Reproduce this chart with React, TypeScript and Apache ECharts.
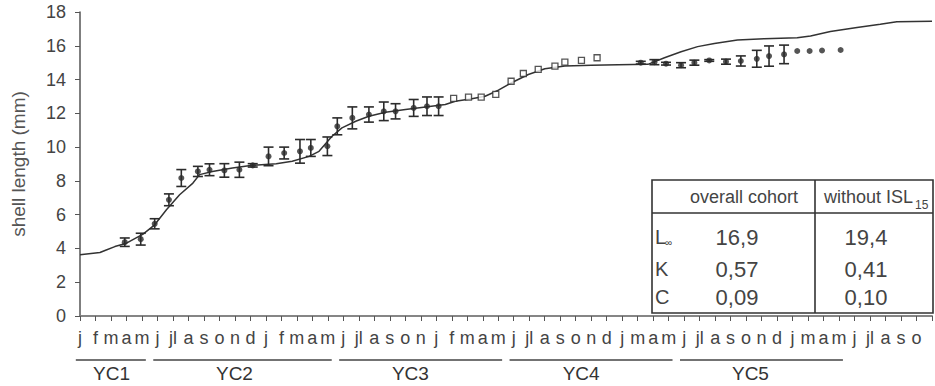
import React, { useEffect, useRef } from "react";
import * as echarts from "echarts";

// ---------- data ----------
const monthLabels = [
  "j", "f", "m", "a", "m",
  "j", "jl", "a", "s", "o", "n", "d", "j", "f", "m", "a", "m",
  "j", "jl", "a", "s", "o", "n", "j", "f", "m", "a", "m",
  "j", "jl", "a", "s", "o", "n", "d", "j", "m", "a", "m",
  "j", "jl", "a", "s", "o", "n", "d", "j", "m", "a", "m",
  "j", "jl", "a", "s", "o",
];

const yearClassNames = ["YC1", "YC2", "YC3", "YC4", "YC5"];
const yearClassStart = [0, 5, 17, 28, 39];
const yearClassEnd = [4, 16, 27, 38, 49];
const yearClassLabelAt = [2.04, 9.97, 21.33, 32.35, 43.28];

// growth curve (VBGF seasonal fit)
const curveX = [0, 1.29, 1.61, 2.25, 3.0, 4.07, 4.82, 5.58, 6.43, 7.29, 7.72, 8.55, 9.84, 11.13, 12.67, 13.7, 14.79, 15.43, 16.27, 16.91, 17.8, 18.65, 19.72, 21.01, 22.3, 23.58, 24.23, 25.29, 26.15, 27.01, 27.86, 28.94, 30.01, 31.3, 33.01, 34.73, 36.66, 37.73, 38.8, 39.87, 40.95, 42.44, 44.16, 46.3, 47.16, 48.44, 50.16, 51.66, 52.73, 55];
const curveY = [3.62, 3.76, 3.88, 4.11, 4.31, 4.85, 5.4, 6.29, 7.18, 7.87, 8.37, 8.56, 8.76, 8.92, 9.02, 9.16, 9.45, 9.75, 10.64, 11.14, 11.53, 11.83, 12.07, 12.23, 12.38, 12.52, 12.72, 12.86, 13.01, 13.37, 13.81, 14.3, 14.64, 14.8, 14.84, 14.87, 14.9, 15.29, 15.65, 15.95, 16.14, 16.34, 16.42, 16.48, 16.58, 16.84, 17.08, 17.27, 17.42, 17.45];

// mean shell length with error bars (first sampling period)
const ebX1 = [2.89, 3.92, 4.82, 5.74, 6.54, 7.61, 8.36, 9.32, 10.29, 11.15, 12.17, 13.18, 14.2, 14.9, 15.97, 16.61, 17.58, 18.65, 19.61, 20.37, 21.54, 22.4, 23.15];
const ebY1 = [4.37, 4.55, 5.46, 6.88, 8.17, 8.56, 8.66, 8.62, 8.66, 8.92, 9.45, 9.65, 9.75, 9.95, 10.05, 11.23, 11.73, 11.93, 12.12, 12.12, 12.32, 12.42, 12.42];
const ebE1 = [0.25, 0.35, 0.3, 0.35, 0.5, 0.3, 0.35, 0.4, 0.45, 0.1, 0.55, 0.35, 0.7, 0.5, 0.55, 0.5, 0.65, 0.45, 0.55, 0.45, 0.5, 0.55, 0.55];

// open squares
const sqX = [24.12, 25.08, 25.9, 26.84, 27.83, 28.62, 29.58, 30.66, 31.3, 32.37, 33.38];
const sqY = [12.88, 12.96, 12.96, 13.12, 13.9, 14.36, 14.6, 14.8, 15.03, 15.13, 15.29];

// second period with error bars
const ebX2 = [36.2, 37.08, 37.83, 38.8, 39.66, 40.62, 41.7, 42.66, 43.69, 44.48, 45.45];
const ebY2 = [15.0, 15.03, 14.94, 14.85, 15.0, 15.13, 15.06, 15.1, 15.23, 15.39, 15.49];
const ebE2 = [0.08, 0.15, 0.08, 0.15, 0.15, 0.05, 0.15, 0.3, 0.5, 0.6, 0.55];

// single dots
const dotX = [46.3, 47.1, 47.9, 49.1];
const dotY = [15.69, 15.69, 15.72, 15.75];

// parameter table
const tableColumns = ["overall cohort", "without ISL"];
const tableColumnSub = ["", "15"];
const tableRowNames = ["L", "K", "C"];
const tableRowSub = ["∞", "", ""];
const tableOverall = ["16,9", "0,57", "0,09"];
const tableWithout = ["19,4", "0,41", "0,10"];

// ---------- style ----------
const SANS = "'Liberation Sans', Arial, Helvetica, sans-serif";
const INK = "#2b2b2b";
const TXT = "#444";

export default function App() {
  const ref = useRef<HTMLDivElement>(null);

  useEffect(() => {
    document.body.style.margin = "0";
    const el = ref.current!;
    const chart = echarts.init(el, null, { renderer: "svg" });

    const zip = (a: number[], b: number[]) => a.map((v, i) => [v, b[i]]);
    const zip3 = (a: number[], b: number[], c: number[]) => a.map((v, i) => [v, b[i], c[i]]);

    const errData = [...zip3(ebX1, ebY1, ebE1), ...zip3(ebX2, ebY2, ebE2)];

    const option: any = {
      animation: false,
      backgroundColor: "#fff",
      grid: { left: 80, right: 0, top: 12, bottom: 70, containLabel: false },
      xAxis: [
        {
          type: "value",
          min: 0,
          max: 55,
          interval: 1,
          axisLine: { show: true, onZero: false, lineStyle: { color: "#555", width: 1.5 } },
          axisTick: { show: true, length: 5, lineStyle: { color: "#555", width: 1 } },
          axisLabel: {
            show: true,
            margin: 13,
            fontSize: 18,
            color: TXT,
            fontFamily: SANS,
            formatter: (v: number) => monthLabels[Math.round(v)] ?? "",
          },
          splitLine: { show: false },
        },
        {
          type: "value",
          position: "top",
          min: 0,
          max: 55,
          axisLine: { show: true, lineStyle: { color: "#888", width: 1.5 } },
          axisTick: { show: false },
          axisLabel: { show: false },
          splitLine: { show: false },
        },
      ],
      yAxis: {
        type: "value",
        min: 0,
        max: 18,
        interval: 2,
        name: "shell length (mm)",
        nameLocation: "middle",
        nameGap: 52,
        nameTextStyle: { fontSize: 19, color: "#555", fontFamily: SANS },
        axisLine: { show: true, lineStyle: { color: "#555", width: 1.5 } },
        axisTick: { show: true, length: 5, lineStyle: { color: "#555", width: 1 } },
        axisLabel: { fontSize: 18, color: TXT, margin: 14, fontFamily: SANS },
        splitLine: { show: false },
      },
      series: [
        {
          type: "line",
          data: zip(curveX, curveY),
          symbol: "none",
          lineStyle: { color: "#333", width: 1.5 },
          z: 2,
        },
        {
          type: "custom",
          data: errData,
          z: 3,
          renderItem: (_params: any, api: any) => {
            const x = api.value(0);
            const y = api.value(1);
            const e = api.value(2);
            const top = api.coord([x, y + e]);
            const bot = api.coord([x, y - e]);
            const cw = 5;
            const st = { stroke: INK, lineWidth: 1.6 };
            return {
              type: "group",
              children: [
                { type: "line", shape: { x1: top[0], y1: top[1], x2: bot[0], y2: bot[1] }, style: st },
                { type: "line", shape: { x1: top[0] - cw, y1: top[1], x2: top[0] + cw, y2: top[1] }, style: st },
                { type: "line", shape: { x1: bot[0] - cw, y1: bot[1], x2: bot[0] + cw, y2: bot[1] }, style: st },
              ],
            };
          },
        },
        {
          type: "scatter",
          data: [...zip(ebX1, ebY1), ...zip(ebX2, ebY2), ...zip(dotX, dotY)],
          symbol: "circle",
          symbolSize: 6,
          itemStyle: { color: INK },
          z: 4,
        },
        {
          type: "scatter",
          data: zip(sqX, sqY),
          symbol: "rect",
          symbolSize: 6,
          itemStyle: { color: "#fff", borderColor: INK, borderWidth: 1.3 },
          z: 4,
        },
      ],
    };

    chart.setOption(option);

    const px = (v: number) => chart.convertToPixel({ xAxisIndex: 0 }, v) as number;
    const txt = (x: number, y: number, text: string, size: number, align: string, color = TXT) => ({
      type: "text",
      x,
      y,
      style: {
        text,
        fontSize: size,
        fontFamily: SANS,
        fill: color,
        align,
        verticalAlign: "middle",
        textAlign: align,
        textVerticalAlign: "middle",
      },
      z: 10,
    });

    const graphics: any[] = [];
    yearClassNames.forEach((name, i) => {
      graphics.push({
        type: "line",
        shape: { x1: px(yearClassStart[i] - 0.27), y1: 360, x2: px(yearClassEnd[i] + 0.25), y2: 360 },
        style: { stroke: "#444", lineWidth: 1.5 },
        z: 10,
      });
      graphics.push(txt(px(yearClassLabelAt[i]), 373, name, 19, "center", "#333"));
    });

    // table
    const tx0 = 652, tx1 = 933, ty0 = 180, ty1 = 313, tyH = 213, tMid = 815;
    graphics.push({
      type: "rect",
      shape: { x: tx0, y: ty0, width: tx1 - tx0, height: ty1 - ty0 },
      style: { fill: "#fff", stroke: "#333", lineWidth: 1.6 },
      z: 9,
    });
    graphics.push({ type: "line", shape: { x1: tx0, y1: tyH, x2: tx1, y2: tyH }, style: { stroke: "#333", lineWidth: 1.6 }, z: 10 });
    graphics.push({ type: "line", shape: { x1: tMid, y1: ty0, x2: tMid, y2: ty1 }, style: { stroke: "#333", lineWidth: 1.6 }, z: 10 });
    graphics.push(txt(744, 197, tableColumns[0], 18, "center"));
    graphics.push(txt(913, 197, tableColumns[1], 18, "right"));
    graphics.push(txt(915, 205, tableColumnSub[1], 12, "left"));
    const rowY = [237, 269, 297];
    tableRowNames.forEach((n, i) => {
      graphics.push(txt(655, rowY[i], n, 20, "left"));
      if (tableRowSub[i]) graphics.push(txt(665, rowY[i] + 5, tableRowSub[i], 10, "left"));
      graphics.push(txt(737, rowY[i], tableOverall[i], 22, "center"));
      graphics.push(txt(866, rowY[i], tableWithout[i], 22, "center"));
    });

    chart.setOption({ graphic: graphics });

    return () => chart.dispose();
  }, []);

  return (
    <div
      ref={ref}
      style={{ position: "fixed", left: 0, top: 0, width: 935, height: 386, background: "#fff" }}
    />
  );
}
